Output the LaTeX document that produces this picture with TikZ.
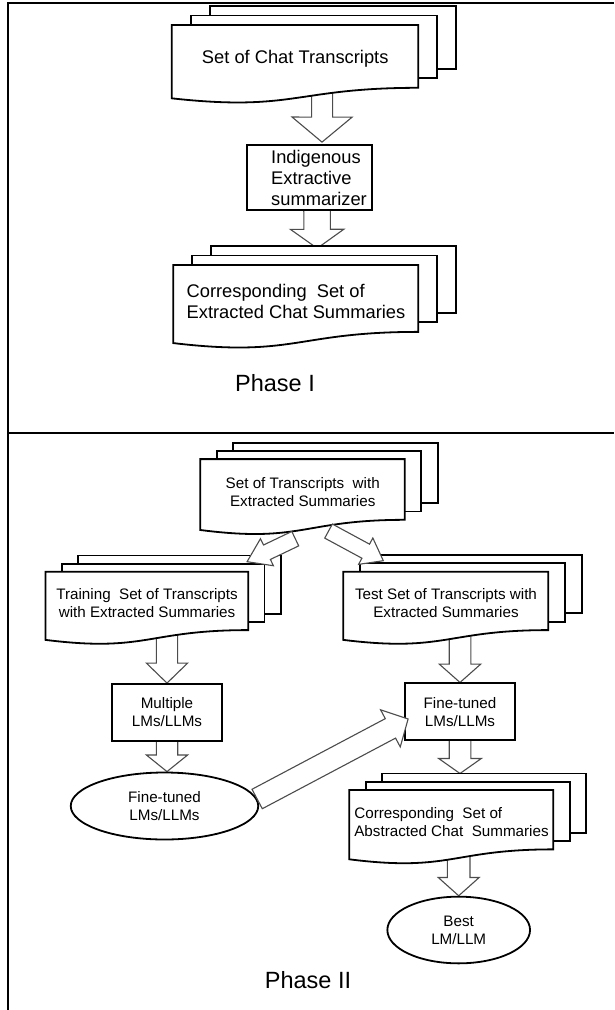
\documentclass[tikz,border=0pt]{standalone}
\usepackage{fontspec}
\setmainfont{Liberation Sans}
\usetikzlibrary{calc,shapes.geometric}
\pgfdeclarelayer{back}
\pgfsetlayers{back,main}

\tikzset{
  page/.style={draw,fill=white,line width=1.8pt},
  doctext/.style={anchor=north west,inner sep=0pt},
  procbox/.style={draw,fill=white,line width=1.8pt,inner sep=0pt},
  roundbox/.style={ellipse,draw,fill=white,line width=1.8pt,inner sep=0pt},
  hollow/.style={draw=black!70,fill=white,line width=1.1pt,line join=miter},
  frame/.style={line width=2pt},
  phaseone/.style={font=\fontsize{18.3}{21}\selectfont},
  phasetwo/.style={font=\fontsize{15.2}{18}\selectfont},
  phasetitle/.style={font=\fontsize{23.5}{28}\selectfont},
}

% #1 name, #2 left, #3 top, #4 width, #5 height, #6 page shift, #7 text options, #8 text
\newcommand{\docstack}[8]{%
  \foreach \k in {2,1}
    \draw[page] ({#2+\k*#6},{#3-\k*#6/2}) rectangle ++(#4,{0.8*#5});
  \draw[page] (#2,#3) -- ++(#4,0) -- ++(0,{0.8*#5})
    .. controls ({#2+0.5*#4},{#3+0.8*#5}) and ({#2+0.5*#4},{#3+1.107*#5}) .. (#2,{#3+0.934*#5}) -- cycle;
  \node[doctext,#7,minimum width=#4,minimum height={0.86*#5}] (#1) at (#2,#3) {#8};
}

% #1 tail, #2 tip, #3 half shaft, #4 half head, #5 head length
\newcommand{\blockarrow}[5]{%
  \coordinate (ba-t) at (#1);
  \coordinate (ba-h) at (#2);
  \coordinate (ba-b) at ($(ba-h)!#5!(ba-t)$);
  \draw[hollow] ($(ba-t)!#3!90:(ba-h)$) -- ($(ba-b)!#3!90:(ba-h)$) -- ($(ba-b)!#4!90:(ba-h)$)
    -- (ba-h) -- ($(ba-b)!#4!-90:(ba-h)$) -- ($(ba-b)!#3!-90:(ba-h)$) -- ($(ba-t)!#3!-90:(ba-h)$) -- cycle;
}

\begin{document}
\begin{tikzpicture}[x=1pt,y=-1pt]
\useasboundingbox (0,0) rectangle (614,1010);
\draw[frame] (614,3) -- (7.7,3) -- (7.7,1010);
\draw[frame] (7.7,433) -- (614,433);

% Phase I
\docstack{chat}{171.7}{25}{246.6}{78.5}{19}{phaseone}{Set of Chat Transcripts}
\node[procbox,phaseone,align=left,minimum width=124.4,minimum height=65] (ies) at (309.5,177.5)
  {\hspace*{19pt}Indigenous\\\hspace*{19pt}Extractive\\\hspace*{19pt}summarizer};
\docstack{ext}{173.3}{265}{245}{83.6}{19}{phaseone,align=left}{Corresponding\ \ Set of\\Extracted Chat Summaries}
\node[phasetitle] (ph1) at (275,383) {Phase I};

% Phase II
\docstack{sets}{200.3}{459.1}{204.5}{75.9}{16.5}{phasetwo,align=center}{Set of Transcripts\ \ with\\Extracted Summaries}
\docstack{trn}{45.5}{571.7}{202.7}{73}{16.2}{phasetwo,align=center}{Training\ \ Set of Transcripts\\with Extracted Summaries}
\docstack{tst}{343.3}{571.7}{205}{73}{17}{phasetwo,align=center}{Test Set of Transcripts with\\Extracted Summaries}
\node[procbox,phasetwo,align=center,minimum width=109.3,minimum height=57] (multi) at (167,712.5) {Multiple\\LMs/LLMs};
\node[procbox,phasetwo,align=center,minimum width=110,minimum height=56.7] (ft) at (460,711.7) {Fine-tuned\\LMs/LLMs};
\node[roundbox,phasetwo,align=center,minimum width=187.5,minimum height=67] (ftl) at (164.5,806) {Fine-tuned\\LMs/LLMs};
\docstack{abs}{349.3}{790}{204}{74.2}{16.5}{phasetwo,align=left}{Corresponding\ \ Set of\\Abstracted Chat\ \ Summaries}
\node[roundbox,phasetwo,align=center,minimum width=142.7,minimum height=66.7] (best) at (458.7,930) {Best\\LM/LLM};
\node[phasetitle] (ph2) at (308,980) {Phase II};

\coordinate (abstop) at ([yshift=16.5pt]abs.north);

\begin{pgfonlayer}{back}
\blockarrow{[xshift=27pt]chat.center}{[shift={(12.5,-2)}]ies.north}{10.5pt}{30pt}{25pt}
\blockarrow{[xshift=7.5pt]ies.center}{[shift={(21.2,-16.7)}]ext.north}{13.3pt}{26.7pt}{19pt}
\blockarrow{trn.center -| multi.north}{multi.north}{10.6pt}{20.6pt}{20pt}
\blockarrow{multi.center}{multi.center |- ftl.north}{10.7pt}{20.6pt}{16.6pt}
\blockarrow{tst.center -| ft.north}{ft.north}{10.8pt}{20.8pt}{18.4pt}
\blockarrow{ft.center}{ft.center |- abstop}{10.8pt}{21.3pt}{15pt}
\blockarrow{abs.center -| best.north}{best.north}{11.3pt}{20.5pt}{18.3pt}
\end{pgfonlayer}

\blockarrow{[shift={(-7.5,13.9)}]sets.south}{[shift={(-1.5,-10)}]trn.north east}{8pt}{15pt}{22pt}
\blockarrow{[shift={(25.8,6.3)}]sets.south}{[shift={(40,-11)}]tst.north west}{8pt}{15pt}{20pt}
\blockarrow{[shift={(-2,-7)}]ftl.east}{[shift={(4,7.3)}]ft.west}{11pt}{21pt}{20pt}
\end{tikzpicture}
\end{document}
